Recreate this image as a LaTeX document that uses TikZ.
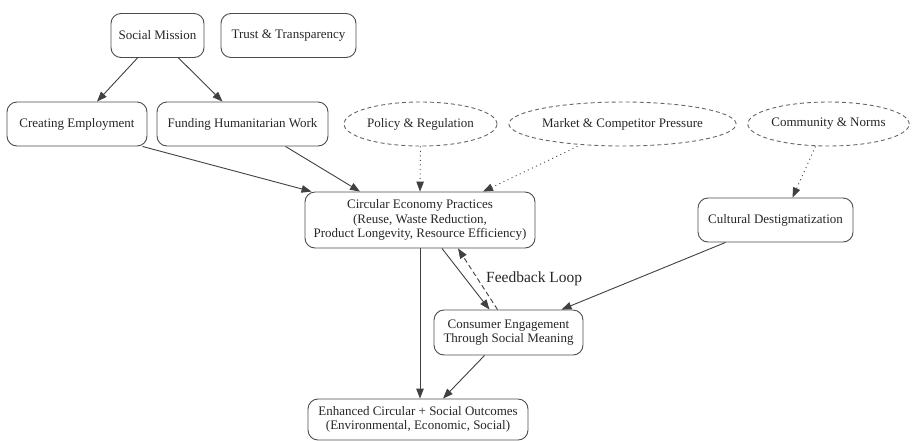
\documentclass[tikz,border=0pt]{standalone}
\usepackage{fontspec}
\setmainfont{Liberation Serif}
\usetikzlibrary{arrows.meta,shapes.geometric}

\begin{document}
\begin{tikzpicture}[x=1pt,y=-1pt,
  box/.style={draw=black!70,line width=0.9pt,rounded corners=10pt,align=center,inner sep=0pt,minimum height=44pt,text=black!85,font=\fontsize{13}{14.5}\selectfont},
  factor/.style={draw=black!60,ellipse,dash pattern=on 4pt off 3pt,line width=0.9pt,inner sep=0pt,minimum height=44pt,text=black!85,font=\fontsize{13}{14.5}\selectfont},
  link/.style={draw=black!75,line width=0.9pt,-{Triangle[length=10pt,width=7.5pt]}},
  influence/.style={link,dash pattern=on 1pt off 3.5pt},
  feedback/.style={link,dash pattern=on 5pt off 3pt}]
\useasboundingbox (0,0) rectangle (912,440);
\node[box,minimum width=93pt] (mission) at (157.5,35.5) {Social Mission};
\node[box,minimum width=135pt] (trust) at (288.5,35.5) {Trust \& Transparency};
\node[box,minimum width=140pt] (employ) at (77,124) {Creating Employment};
\node[box,minimum width=171pt] (funding) at (242.5,124) {Funding Humanitarian Work};
\node[factor,minimum width=153pt] (policy) at (420.5,124) {Policy \& Regulation};
\node[factor,minimum width=225pt] (market) at (622.5,124) {Market \& Competitor Pressure};
\node[factor,minimum width=155pt] (community) at (828.5,124) {Community \& Norms};
\node[box,minimum width=230pt,minimum height=56pt] (circular) at (420,220) {Circular Economy Practices\\(Reuse, Waste Reduction,\\Product Longevity, Resource Efficiency)};
\node[box,minimum width=155pt] (destig) at (775.5,220) {Cultural Destigmatization};
\node[box,minimum width=149pt,minimum height=45pt] (engage) at (508.5,332.5) {Consumer Engagement\\Through Social Meaning};
\node[box,minimum width=220pt,minimum height=41pt] (outcomes) at (418,419.5) {Enhanced Circular + Social Outcomes\\(Environmental, Economic, Social)};
\draw[link] ([xshift=-20pt]mission.south) -- ([xshift=20pt]employ.north);
\draw[link] ([xshift=21pt]mission.south) -- ([xshift=-20pt]funding.north);
\draw[link] ([xshift=-5pt]employ.south east) -- ([xshift=7pt]circular.north west);
\draw[link] ([xshift=43pt]funding.south) -- ([xshift=-60pt]circular.north);
\draw[influence] (policy.south) -- (circular.north);
\draw[influence] ([xshift=-45pt]market.south) -- ([xshift=63pt]circular.north);
\draw[influence] ([xshift=-13pt]community.south) -- ([xshift=17pt]destig.north);
\draw[link] ([xshift=-50pt]destig.south) -- ([xshift=53pt]engage.north);
\draw[link] ([xshift=22pt]circular.south) -- ([xshift=-19pt]engage.north);
\draw[feedback] ([xshift=-11pt]engage.north) -- node[anchor=west,xshift=8pt,inner sep=0pt,text=black!85,font=\fontsize{15.5}{18}\selectfont] (fbl) {Feedback Loop} ([xshift=38pt]circular.south);
\draw[link] (circular.south) -- (circular.south |- outcomes.north);
\draw[link] ([xshift=-24pt]engage.south) -- ([xshift=25pt]outcomes.north);
\end{tikzpicture}
\end{document}
